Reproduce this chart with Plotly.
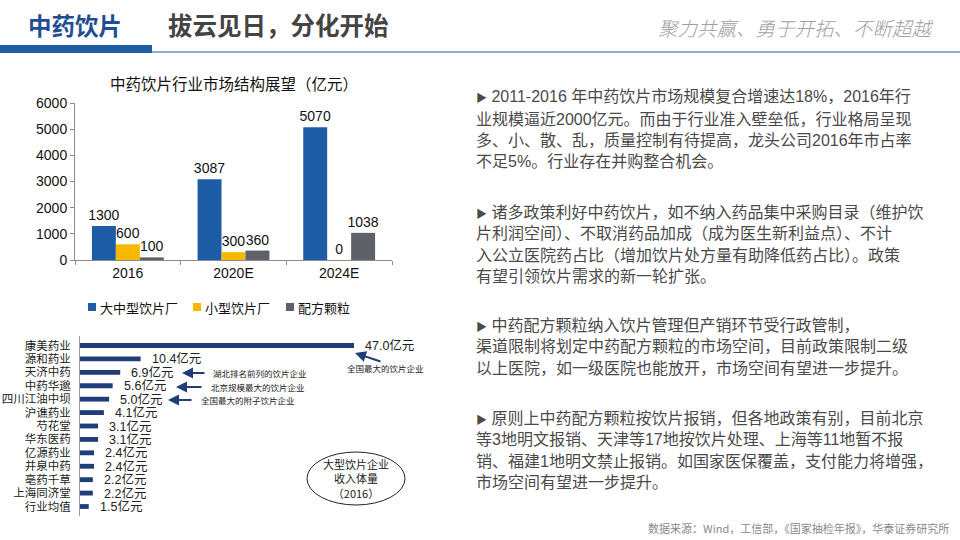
import plotly.graph_objects as go

# ---------------- data ----------------
years = ["2016", "2020E", "2024E"]
large_plants = [1300, 3087, 5070]
small_plants = [600, 300, 0]
granules = [100, 360, 1038]
series_names = ["大中型饮片厂", "小型饮片厂", "配方颗粒"]

companies = ["康美药业", "源和药业", "天济中药", "中药华邈", "四川江油中坝", "沪谯药业",
             "芍花堂", "华东医药", "亿源药业", "井泉中药", "亳药千草", "上海同济堂", "行业均值"]
revenue_2016 = [47.0, 10.4, 6.9, 5.6, 5.0, 4.1, 3.1, 3.1, 2.4, 2.4, 2.2, 2.2, 1.5]

paragraphs = [
    ["2011-2016 年中药饮片市场规模复合增速达18%，2016年行",
     "业规模逼近2000亿元。而由于行业准入壁垒低，行业格局呈现",
     "多、小、散、乱，质量控制有待提高，龙头公司2016年市占率",
     "不足5%。行业存在并购整合机会。"],
    ["诸多政策利好中药饮片，如不纳入药品集中采购目录（维护饮",
     "片利润空间）、不取消药品加成（成为医生新利益点）、不计",
     "入公立医院药占比（增加饮片处方量有助降低药占比）。政策",
     "有望引领饮片需求的新一轮扩张。"],
    ["中药配方颗粒纳入饮片管理但产销环节受行政管制，",
     "渠道限制将划定中药配方颗粒的市场空间，目前政策限制二级",
     "以上医院，如一级医院也能放开，市场空间有望进一步提升。"],
    ["原则上中药配方颗粒按饮片报销，但各地政策有别，目前北京",
     "等3地明文报销、天津等17地按饮片处理、上海等11地暂不报",
     "销、福建1地明文禁止报销。如国家医保覆盖，支付能力将增强，",
     "市场空间有望进一步提升。"],
]
para_top = [97, 212, 325, 418]

W, H = 960, 540
FONT = "Liberation Sans, Noto Sans CJK SC, sans-serif"
CJK = "Noto Sans CJK SC, sans-serif"
BLUE = "#1F5CA6"
YELLOW = "#F7B900"
GRAY = "#5E6168"
NAVY = "#1F3D78"


def px(x):
    return x / W


def py(y):
    return 1 - y / H


fig = go.Figure()

colors = [BLUE, YELLOW, GRAY]
for name, vals, c in zip(series_names, [large_plants, small_plants, granules], colors):
    fig.add_trace(go.Bar(
        x=years, y=vals, name=name, marker_color=c, marker_line_width=0,
        text=[str(v) for v in vals], textposition="outside", cliponaxis=False,
        constraintext="none", showlegend=False,
        textfont=dict(family=FONT, size=14, color="#111"),
        xaxis="x", yaxis="y"))

fig.add_trace(go.Bar(
    x=revenue_2016, y=companies, orientation="h", marker_color=NAVY,
    marker_line_width=0, width=0.36, showlegend=False, xaxis="x2", yaxis="y2"))

annotations = []
shapes = []

# manual legend for chart 1
legend_x = [88, 193, 286]
for name, c, lx in zip(series_names, colors, legend_x):
    shapes.append(dict(type="rect", xref="paper", yref="paper", x0=px(lx), x1=px(lx + 8),
                       y0=py(311), y1=py(303), fillcolor=c, line_width=0))
    annotations.append(dict(x=px(lx + 10), y=py(307), xref="paper", yref="paper", text=name,
                            showarrow=False, xanchor="left", yanchor="middle",
                            font=dict(family=CJK, size=13, color="#111")))

# value labels for horizontal bars
for c, v in zip(companies, revenue_2016):
    annotations.append(dict(x=v, y=c, xref="x2", yref="y2", text=f"{v:.1f}亿元",
                            showarrow=False, xanchor="left", yanchor="middle", xshift=9,
                            font=dict(family=FONT, size=12.5, color="#222")))

# header
annotations += [
    dict(x=px(26), y=py(25), xref="paper", yref="paper", text="<b>中药饮片</b>",
         showarrow=False, xanchor="left", yanchor="middle",
         font=dict(family=CJK, size=23.5, color="#1F4F91")),
    dict(x=px(166), y=py(25), xref="paper", yref="paper", text="<b>拔云见日，分化开始</b>",
         showarrow=False, xanchor="left", yanchor="middle",
         font=dict(family=CJK, size=24.5, color="#444444")),
    dict(x=px(936), y=py(27), xref="paper", yref="paper", text="<i>聚力共赢、勇于开拓、不断超越</i>",
         showarrow=False, xanchor="right", yanchor="middle",
         font=dict(family=CJK, size=19.5, color="#A0A0A0", weight=300)),
    dict(x=px(234), y=py(83), xref="paper", yref="paper", text="中药饮片行业市场结构展望（亿元）",
         showarrow=False, xanchor="center", yanchor="middle",
         font=dict(family=CJK, size=15.5, color="#111")),
]

# right text
for lines, top in zip(paragraphs, para_top):
    for i, line in enumerate(lines):
        t = line
        if i == 0:
            t = "<span style='font-size:11px'>▶</span> " + line
        annotations.append(dict(x=px(474), y=py(top + i * 21.5), xref="paper", yref="paper",
                                text=t, showarrow=False, xanchor="left", yanchor="middle",
                                font=dict(family=FONT, size=16, color="#4A4A4A")))

annotations.append(dict(x=px(951), y=py(528), xref="paper", yref="paper",
                        text="数据来源：Wind，工信部，《国家抽检年报》，华泰证券研究所",
                        showarrow=False, xanchor="right", yanchor="middle",
                        font=dict(family=CJK, size=11, color="#8A8A8A")))

# arrows and notes for chart 2
notes = [
    ("全国最大的饮片企业", 345, 368, (355, 353), (382, 362)),
    ("湖北排名前列的饮片企业", 211, 373, (182, 373), (206, 373)),
    ("北京规模最大的饮片企业", 209, 387, (176, 387), (203, 387)),
    ("全国最大的附子饮片企业", 199, 400, (168, 400), (193, 400)),
]
for txt, tx, ty, tip, tail in notes:
    annotations.append(dict(x=px(tx), y=py(ty), xref="paper", yref="paper", text=txt,
                            showarrow=False, xanchor="left", yanchor="middle",
                            font=dict(family=CJK, size=8.5, color="#222")))
    annotations.append(dict(x=px(tip[0]), y=py(tip[1]), xref="paper", yref="paper",
                            ax=tail[0] - tip[0], ay=tail[1] - tip[1],
                            axref="pixel", ayref="pixel",
                            text="", showarrow=True, arrowhead=2, arrowsize=1.1,
                            arrowwidth=2, arrowcolor=NAVY))

annotations.append(dict(x=px(356), y=py(478), xref="paper", yref="paper",
                        text="大型饮片企业<br>收入体量<br>（2016）", showarrow=False,
                        xanchor="center", yanchor="middle",
                        align="center", font=dict(family=CJK, size=11, color="#222")))

shapes += [
    dict(type="rect", xref="paper", yref="paper", x0=0, x1=px(152), y0=py(53), y1=py(45),
         fillcolor="#1F5CA6", line_width=0),
    dict(type="line", xref="paper", yref="paper", x0=px(152), x1=1, y0=py(52), y1=py(52),
         line=dict(color="#1F5CA6", width=1.2)),
    dict(type="circle", xref="paper", yref="paper", x0=px(307), x1=px(405),
         y0=py(505), y1=py(452), line=dict(color="#222", width=1)),
]

fig.update_layout(
    width=W, height=H, margin=dict(l=0, r=0, t=0, b=0),
    paper_bgcolor="white", plot_bgcolor="white",
    barmode="group", bargap=0.32, bargroupgap=0,
    font=dict(family=FONT, color="#111"),
    showlegend=False,
    xaxis=dict(domain=[px(75), px(392)], type="category", showline=True, linecolor="#8C8C8C",
               ticks="outside", tickson="boundaries", ticklen=4, tickcolor="#8C8C8C",
               tickfont=dict(family=FONT, size=14, color="#111"), showgrid=False,
               anchor="y", fixedrange=True, automargin=False),
    yaxis=dict(domain=[py(260), py(103)], range=[0, 6000], dtick=1000, showline=True,
               linecolor="#8C8C8C", ticks="outside", ticklen=4, tickcolor="#8C8C8C",
               tickfont=dict(family=FONT, size=14, color="#111"), showgrid=False,
               zeroline=False, anchor="x", automargin=False),
    xaxis2=dict(domain=[px(80), px(440)], range=[0, 47.0 * 360 / 274], visible=False,
                anchor="y2", automargin=False),
    yaxis2=dict(domain=[py(516), py(336)], type="category", autorange="reversed",
                tickmode="array", tickvals=companies, ticktext=companies,
                showline=True, linecolor="#9A9A9A", ticks="", showgrid=False,
                tickfont=dict(family="Liberation Serif, Noto Sans CJK SC, serif", size=11.5,
                              color="#222"),
                anchor="x2", ticklabelstandoff=6, automargin=False),
    annotations=annotations, shapes=shapes,
)

fig.write_html("out.html", config={"displayModeBar": False},
               post_script="document.body.style.margin='0px';")
